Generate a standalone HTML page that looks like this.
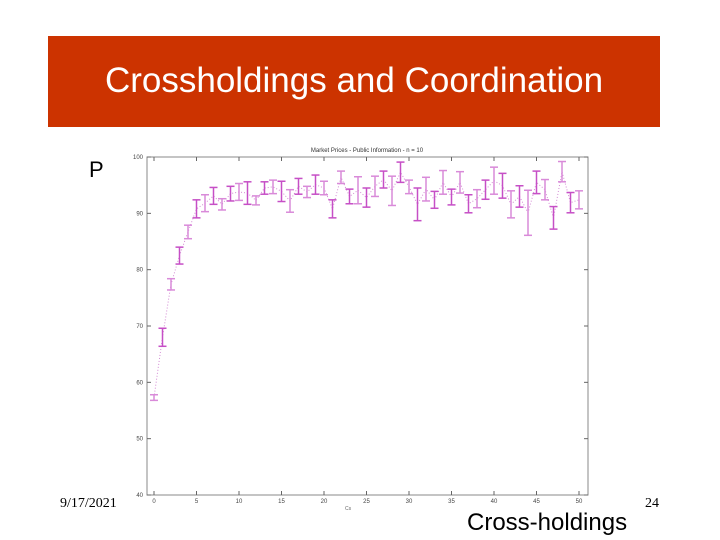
<!DOCTYPE html>
<html><head><meta charset="utf-8"><style>
body{margin:0;width:720px;height:540px;background:#fff;position:relative;overflow:hidden;font-family:"Liberation Sans",sans-serif}
.abs{position:absolute}
</style></head><body>
<div class="abs" style="left:48px;top:36px;width:612px;height:91px;background:#cc3300"></div>
<div class="abs" style="left:48px;top:61px;width:612px;text-align:center;color:#fff;font-size:35px">Crossholdings and Coordination</div>
<div class="abs" style="left:89px;top:157px;font-size:22px">P</div>
<div class="abs" style="left:60px;top:496px;font-family:'Liberation Serif',serif;font-size:14px">9/17/2021</div>
<div class="abs" style="left:645px;top:496px;font-family:'Liberation Serif',serif;font-size:14px">24</div>
<div class="abs" style="left:467px;top:509px;font-size:24px">Cross-holdings</div>
<svg class="abs" style="left:0;top:0" width="720" height="540" id="chart"></svg>
<script>
const xs=[0,1,2,3,4,5,6,7,8,9,10,11,12,13,14,15,16,17,18,19,20,21,22,23,24,25,26,27,28,29,30,31,32,33,34,35,36,37,38,39,40,41,42,43,44,45,46,47,48,49,50];
const means=[57.3,68,77.4,82.5,86.7,90.8,91.8,93.1,91.6,93.5,93.8,93.6,92.3,94.5,94.7,93.9,92.2,94.8,93.8,95.1,94.5,90.8,96.4,93,94.1,92.8,94.8,96,94,97.3,94.7,91.6,94.3,92.4,95.5,92.9,95.5,91.7,92.6,94.2,95.8,94.9,91.6,93,90.1,95.5,94.2,89.2,97.4,91.9,92.4];
const errs=[0.5,1.6,1,1.5,1.2,1.6,1.5,1.5,1,1.3,1.5,2,0.8,1.1,1.2,1.8,2,1.4,1,1.7,1.2,1.6,1.1,1.3,2.4,1.7,1.8,1.5,2.6,1.8,1.2,2.9,2.1,1.5,2.1,1.4,1.9,1.6,1.6,1.7,2.4,2.2,2.4,1.9,4,2,1.8,2,1.8,1.8,1.6];
const xTicks=[0,5,10,15,20,25,30,35,40,45,50];
const yTicks=[40,50,60,70,80,90,100];
const NS='http://www.w3.org/2000/svg';
const svg=document.getElementById('chart');
const X=v=>154+v*8.5, Y=v=>495-(v-40)*5.633;
function mk(t,a,p){const e=document.createElementNS(NS,t);for(const k in a)e.setAttribute(k,a[k]);(p||svg).appendChild(e);return e;}
const frame=mk('rect',{x:147,y:157,width:441,height:338,fill:'none',stroke:'#888','stroke-width':1});


const ct=mk('text',{x:367,y:152,'font-size':6,'text-anchor':'middle',fill:'#333'});ct.textContent='Market Prices - Public Information - n = 10';


xTicks.forEach(t=>{mk('line',{x1:X(t),x2:X(t),y1:495,y2:491,stroke:'#666'});mk('line',{x1:X(t),x2:X(t),y1:157,y2:161,stroke:'#666'});
const tx=mk('text',{x:X(t),y:503,'font-size':6,'text-anchor':'middle',fill:'#444'});tx.textContent=t;

});
yTicks.forEach(t=>{mk('line',{x1:147,x2:151,y1:Y(t),y2:Y(t),stroke:'#666'});mk('line',{x1:584,x2:588,y1:Y(t),y2:Y(t),stroke:'#666'});
const tx=mk('text',{x:143,y:Y(t)+2,'font-size':6,'text-anchor':'end',fill:'#444'});tx.textContent=t;

});
const xl=mk('text',{x:345,y:510,'font-size':5,fill:'#666'});xl.textContent='Cs';


const line=mk('polyline',{points:xs.map((x,i)=>X(x)+','+Y(means[i])).join(' '),fill:'none',stroke:'#d38ad3','stroke-width':1,'stroke-dasharray':'1,2'});


xs.forEach((x,i)=>{const g=mk('g',{stroke:i%2?'#c64fc6':'#d98ad9','stroke-width':1.5});


const t=Y(means[i]+errs[i]),b=Y(means[i]-errs[i]);
mk('line',{x1:X(x),x2:X(x),y1:t,y2:b},g);mk('line',{x1:X(x)-4,x2:X(x)+4,y1:t,y2:t},g);mk('line',{x1:X(x)-4,x2:X(x)+4,y1:b,y2:b},g);});
</script>
</body></html>
